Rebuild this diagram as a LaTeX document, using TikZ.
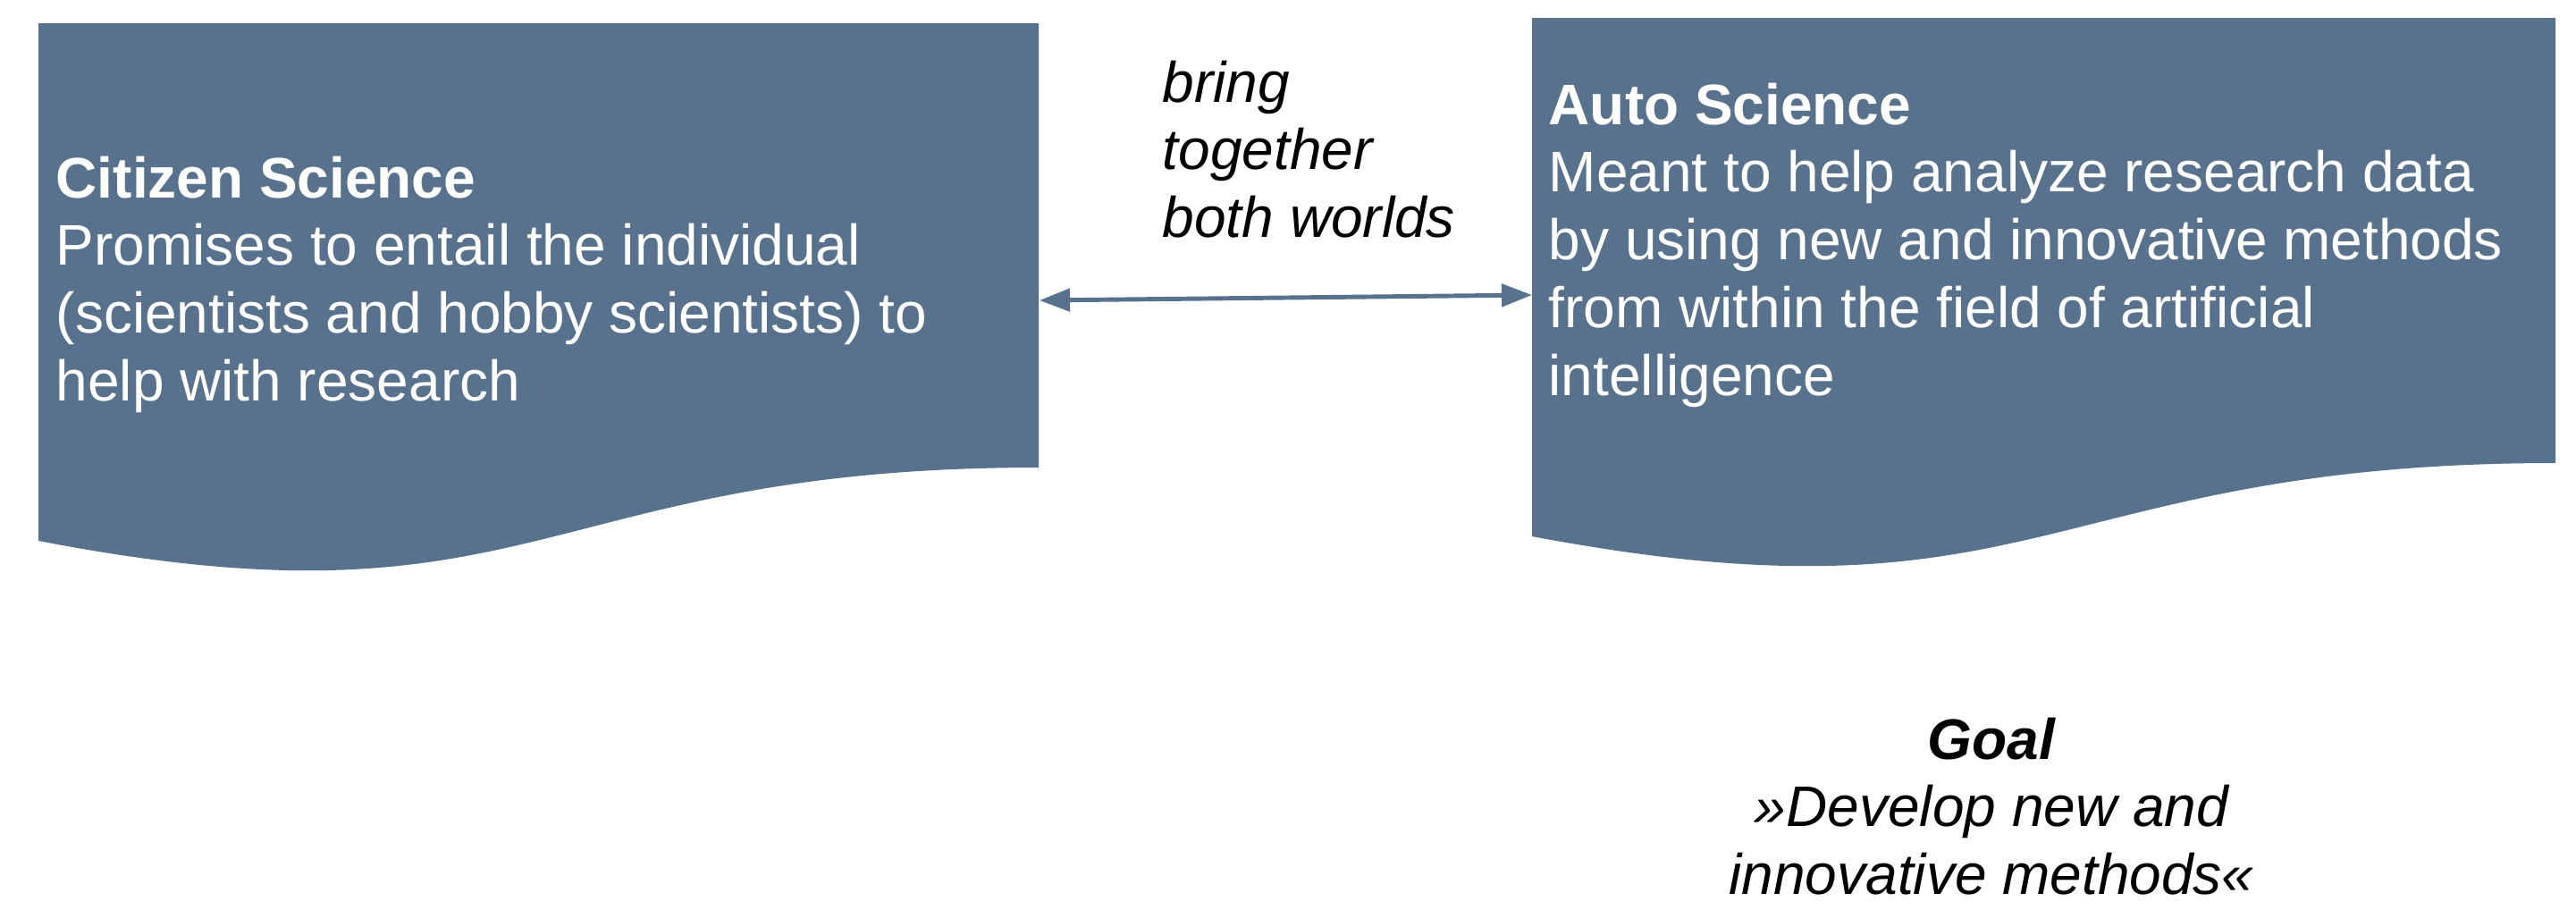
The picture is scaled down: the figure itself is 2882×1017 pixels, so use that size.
\documentclass[tikz,border=0pt]{standalone}
\usepackage{fontspec}
\setmainfont{Liberation Sans}
\usetikzlibrary{arrows.meta}
\definecolor{slateblue}{RGB}{88,114,141}

\begin{document}
\begin{tikzpicture}[x=0.01cm, y=-0.01cm,
    boxtext/.style={anchor=north west, inner sep=0pt, align=left, text=white, font=\fontsize{18.2pt}{21.55pt}\selectfont},
    note/.style={inner sep=0pt, align=left, font=\fontsize{18.2pt}{21.55pt}\selectfont\itshape},
    link/.style={{Triangle[length=0.34cm,width=0.25cm]}-{Triangle[length=0.34cm,width=0.25cm]}, line width=1.4pt, draw=slateblue, fill=slateblue}]
    \useasboundingbox (0,0) rectangle (2882,1017);

    % document shapes
    \fill[slateblue] (43,26) -- (1162,26) -- (1162,523) .. controls (602,523) and (602,713) .. (43,605) -- cycle;
    \fill[slateblue] (1714,20) -- (2859,20) -- (2859,518) .. controls (2286,518) and (2286,708) .. (1714,600) -- cycle;

    \node[boxtext] (citizen) at (62,174) {\textbf{Citizen Science}\\ Promises to entail the individual\\ (scientists and hobby scientists) to\\ help with research};
    \node[boxtext] (auto) at (1732,92) {\textbf{Auto Science}\\ Meant to help analyze research data\\ by using new and innovative methods\\ from within the field of artificial\\ intelligence};

    \node[note, anchor=north west] (bring) at (1300,67) {bring\\ together\\ both worlds};
    \node[note, anchor=north, align=center] (goal) at (2228,802) {\textbf{Goal}\\ »Develop new and\\ innovative methods«};

    \coordinate (citizenE) at (1163,336);
    \coordinate (autoW) at (1714,330);
    \draw[link] (citizenE) -- (autoW);
\end{tikzpicture}
\end{document}
